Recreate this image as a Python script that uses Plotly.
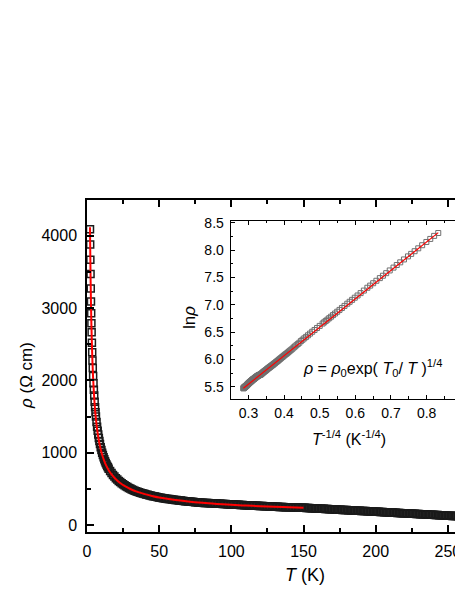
import numpy as np
import plotly.graph_objects as go

# ---- data ----
T_K = [2.08, 2.2, 2.32, 2.45, 2.6, 2.75, 2.9, 3.05, 3.2, 3.4, 3.6, 3.8, 4.0, 4.25, 4.5, 4.75,
       5.0, 5.3, 5.6, 5.9, 6.2, 6.6, 7.0, 7.4, 7.8, 8.2, 8.6, 9.0, 9.5, 10, 10.5, 11, 11.5,
       12, 12.5, 13, 13.5, 14, 14.5, 15, 16, 17, 18, 19, 20, 21, 22, 23, 24, 25, 26, 27, 28,
       29, 30, 31, 32, 33, 34, 35, 36, 37, 38, 39,
       40, 41, 42, 43, 44, 45, 46, 47, 48, 49,
       50, 51, 52, 53, 54, 55, 56, 57, 58, 59,
       60, 61, 62, 63, 64, 65, 66, 67, 68, 69,
       70, 71, 72, 73, 74, 75, 76, 77, 78, 79,
       80, 81, 82, 83, 84, 85, 86, 87, 88, 89,
       90, 91, 92, 93, 94, 95, 96, 97, 98, 99,
       100, 101, 102, 103, 104, 105, 106, 107, 108, 109,
       110, 111, 112, 113, 114, 115, 116, 117, 118, 119,
       120, 121, 122, 123, 124, 125, 126, 127, 128, 129,
       130, 131, 132, 133, 134, 135, 136, 137, 138, 139,
       140, 141, 142, 143, 144, 145, 146, 147, 148, 149,
       150, 151, 152, 153, 154, 155, 156, 157, 158, 159,
       160, 161, 162, 163, 164, 165, 166, 167, 168, 169,
       170, 171, 172, 173, 174, 175, 176, 177, 178, 179,
       180, 181, 182, 183, 184, 185, 186, 187, 188, 189,
       190, 191, 192, 193, 194, 195, 196, 197, 198, 199,
       200, 201, 202, 203, 204, 205, 206, 207, 208, 209,
       210, 211, 212, 213, 214, 215, 216, 217, 218, 219,
       220, 221, 222, 223, 224, 225, 226, 227, 228, 229,
       230, 231, 232, 233, 234, 235, 236, 237, 238, 239,
       240, 241, 242, 243, 244, 245, 246, 247, 248, 249,
       250, 251, 252, 253, 254, 255, 256, 257, 258, 259,
       260]
rho = [4090, 3880, 3670, 3470, 3270, 3090, 2930, 2790, 2665, 2520, 2390, 2275, 2170, 2060, 1960, 1870,
       1790, 1705, 1630, 1560, 1500, 1425, 1360, 1302, 1250, 1202, 1160, 1120, 1076, 1036, 1000, 967, 936,
       909, 883, 859, 837, 817, 797, 779, 746, 718, 692, 670, 648, 628, 610, 594, 579, 565, 548, 536, 524,
       513, 503, 492, 483, 475, 467, 459, 452, 446, 440, 434,
       428, 422, 417, 412, 407, 402, 397, 393, 389, 385,
       381, 377, 374, 370, 367, 364, 361, 358, 355, 352,
       350, 347, 345, 342, 340, 337, 335, 332, 330, 328,
       326, 324, 322, 320, 318, 316, 314, 312, 310, 308,
       307, 305, 304, 304, 304, 302, 301, 300, 299, 298,
       297, 295, 294, 293, 292, 290, 289, 288, 287, 285,
       284, 283, 282, 281, 280, 279, 278, 277, 276, 274,
       273, 272, 271, 270, 269, 268, 267, 266, 265, 264,
       263, 262, 261, 260, 259, 258, 257, 256, 255, 254,
       253, 252, 251, 250, 249, 248, 248, 247, 246, 245,
       245, 244, 244, 243, 242, 241, 241, 240, 239, 238,
       238, 237, 236, 235, 234, 233, 232, 231, 229, 228,
       227, 226, 225, 224, 223, 222, 221, 220, 219, 218,
       217, 215, 214, 213, 212, 211, 210, 209, 208, 207,
       206, 205, 204, 202, 201, 200, 199, 198, 197, 196,
       195, 194, 193, 192, 191, 189, 188, 187, 186, 185,
       184, 183, 182, 181, 180, 178, 177, 176, 175, 174,
       173, 172, 171, 170, 169, 167, 166, 165, 164, 163,
       162, 161, 160, 159, 158, 156, 155, 154, 153, 152,
       151, 150, 149, 148, 147, 146, 145, 143, 142, 141,
       140, 139, 138, 137, 136, 135, 134, 132, 131, 130,
       129, 128, 127, 126, 125, 124, 123, 122, 121, 120,
       119]

# VRH fit curve
fit_T = [2.08, 2.2, 2.45, 2.75, 3.05, 3.4, 3.8, 4.25, 4.75, 5.3, 5.9, 6.6, 7.4, 8.2, 9.0, 10, 11, 12,
         13, 14, 15, 17, 20, 23, 26, 30, 35, 40, 45, 50, 60, 70, 80, 90, 100, 110, 120, 130, 140, 150]
fit_rho = [4118, 3878, 3460, 3075, 2771, 2495, 2246, 2027, 1834, 1667, 1522, 1389, 1267, 1169, 1089,
           1007, 940, 884, 836, 795, 758, 700, 632, 580, 540, 498, 458, 427, 402, 381, 350, 326, 307,
           292, 279, 269, 260, 252, 245, 238]

main_xticks = [0, 50, 100, 150, 200, 250]
main_yticks = [0, 1000, 2000, 3000, 4000]
inset_xticks = [0.3, 0.4, 0.5, 0.6, 0.7, 0.8, 0.9]
inset_yticks = [5.5, 6.0, 6.5, 7.0, 7.5, 8.0, 8.5]

# inset = same measurement shown as ln(rho) vs T^(-1/4) for T <= 150 K
T_arr = np.array(T_K, dtype=float)
r_arr = np.array(rho, dtype=float)
sel = T_arr <= 150
inset_x = T_arr[sel] ** -0.25
inset_y = np.log(r_arr[sel])
fit_inset_x = np.array(fit_T, dtype=float) ** -0.25
fit_inset_y = np.log(np.array(fit_rho, dtype=float))

FONT = "Liberation Sans, Arial, sans-serif"

fig = go.Figure()
fig.add_trace(go.Scatter(x=T_K, y=rho, mode="markers", xaxis="x", yaxis="y",
                         marker=dict(symbol="square-open", size=7, color="#1a1a1a",
                                     line=dict(width=1.5, color="#1a1a1a")),
                         showlegend=False))
fig.add_trace(go.Scatter(x=fit_T, y=fit_rho, mode="lines", xaxis="x", yaxis="y",
                         line=dict(color="#ff0000", width=2, shape="spline"), showlegend=False))
fig.add_trace(go.Scatter(x=inset_x, y=inset_y, mode="markers", xaxis="x2", yaxis="y2",
                         marker=dict(symbol="square-open", size=5, color="#707070",
                                     line=dict(width=1, color="#707070")),
                         showlegend=False))
fig.add_trace(go.Scatter(x=fit_inset_x, y=fit_inset_y, mode="lines", xaxis="x2", yaxis="y2",
                         line=dict(color="#ff0000", width=1.2), showlegend=False))

axis_common = dict(showgrid=False, zeroline=False, showline=True, linecolor="black",
                   ticks="inside", tickcolor="black")

# page body has an 8px margin: figure is 455x591 so the plot lands where the reference has it
fig.update_layout(
    width=455, height=591, autosize=False,
    margin=dict(l=79, r=0, t=192, b=67, pad=0),
    paper_bgcolor="white", plot_bgcolor="white",
    font=dict(family=FONT, color="black"),
    xaxis=dict(domain=[0, 1], range=[0, 260.5], tickvals=main_xticks,
               linewidth=1.5, tickwidth=1.5, ticklen=7, mirror="ticks",
               minor=dict(ticks="inside", ticklen=4, tickwidth=1.5, dtick=25, tick0=0, tickcolor="black"),
               tickfont=dict(size=16, family=FONT), ticklabelstandoff=4, **axis_common),
    yaxis=dict(domain=[0, 1], range=[-97, 4495], tickvals=main_yticks,
               linewidth=1.5, tickwidth=1.5, ticklen=7, mirror=False,
               minor=dict(ticks="inside", ticklen=4, tickwidth=1.5, dtick=500, tick0=0, tickcolor="black"),
               tickfont=dict(size=16, family=FONT), ticklabelstandoff=5, **axis_common),
    xaxis2=dict(domain=[0.382, 0.998], range=[0.25, 0.9], anchor="y2", tickvals=inset_xticks,
                tickformat=".1f", linewidth=1, tickwidth=1, ticklen=4, mirror="ticks",
                minor=dict(ticks="inside", ticklen=2.5, tickwidth=1, dtick=0.05, tick0=0.25, tickcolor="black"),
                tickfont=dict(size=14, family=FONT), ticklabelstandoff=2, **axis_common),
    yaxis2=dict(domain=[0.402, 0.9377], range=[5.284, 8.542], anchor="x2", tickvals=inset_yticks,
                tickformat=".1f", linewidth=1, tickwidth=1, ticklen=4, mirror="ticks",
                minor=dict(ticks="inside", ticklen=2.5, tickwidth=1, dtick=0.25, tick0=5.5, tickcolor="black"),
                tickfont=dict(size=14, family=FONT), ticklabelstandoff=3, **axis_common),
)

ann = [
    dict(text="<i>T</i> (K)", x=0.5798, y=-0.1295, font=dict(size=18)),
    dict(text="<i>ρ</i> (Ω cm)", x=-0.1596, y=0.4729, textangle=-90, font=dict(size=17)),
    dict(text="ln<i>ρ</i>", x=0.274, y=0.6446, textangle=-90, font=dict(size=17)),
    dict(text="<i>T</i><sup>-1/4</sup> (K<sup>-1/4</sup>)", x=0.6968, y=0.2831, font=dict(size=16)),
    dict(text="<i>ρ</i> = <i>ρ</i><sub>0</sub>exp( <i>T</i><sub>0</sub>/ <i>T</i> )<sup>1/4</sup>",
         x=0.758, y=0.4925, font=dict(size=16)),
]
for a in ann:
    fig.add_annotation(xref="paper", yref="paper", showarrow=False, xanchor="center",
                       yanchor="middle", **a)

fig.write_html("out.html")
